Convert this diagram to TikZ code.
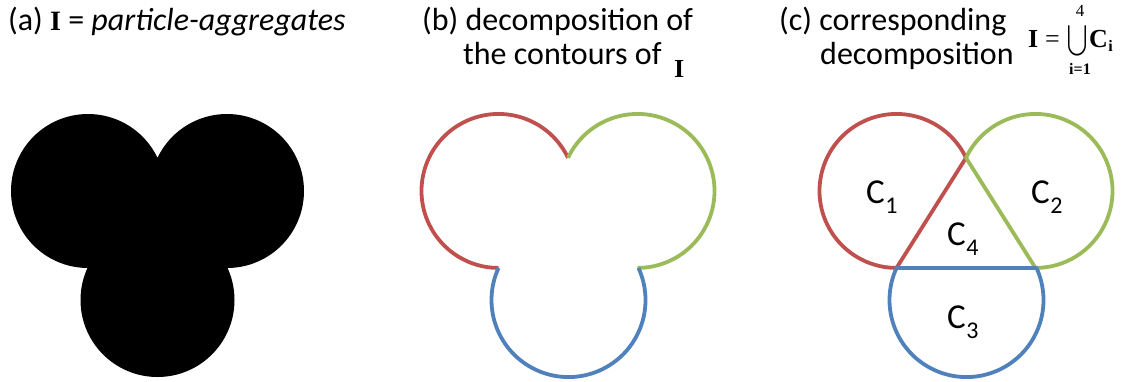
\documentclass[tikz,border=0pt]{standalone}
\usepackage{graphicx}
\usepackage{fontspec}
\setmainfont{Carlito}
\newfontfamily\tms{Liberation Serif}
\definecolor{cred}{HTML}{C0504D}
\definecolor{cgreen}{HTML}{9BBB59}
\definecolor{cblue}{HTML}{4F81BD}
\begin{document}
\begin{tikzpicture}[x=1pt,y=-1pt,
  contour/.style={line width=3.8pt, line join=round},
  ttl/.style={font=\fontsize{32}{36}\selectfont, inner sep=0pt, anchor=base west},
  lbl/.style={inner sep=0pt, anchor=base west, font=\fontsize{35}{35}\selectfont},
  subl/.style={inner sep=0pt, anchor=base west, font=\fontsize{24}{24}\selectfont},
  frm/.style={inner sep=0pt, anchor=base west, font=\fontsize{26}{26}\selectfont\tms\bfseries},
  frms/.style={inner sep=0pt, font=\fontsize{16}{16}\selectfont\tms\bfseries}]
\useasboundingbox (0,0) rectangle (1132,381);
% (a) particle aggregate
\fill[black] (88,191) circle[radius=77] (227,191) circle[radius=77] (157.5,300) circle[radius=77];
% (b) contours
\draw[contour, cred] (568,157.8) arc[start angle=-25.5, end angle=-270, radius=77];
\draw[contour, cgreen] (568,157.8) arc[start angle=-154.5, end angle=90, radius=77];
\draw[contour, cblue] (498.5,268) arc[start angle=204.6, end angle=-24.6, radius=77];
% (c) decomposition
\draw[contour, cred] (966,157.8) arc[start angle=-25.5, end angle=-270, radius=77] -- cycle;
\draw[contour, cgreen] (966,157.8) arc[start angle=-154.5, end angle=90, radius=77] -- cycle;
\draw[contour, cblue] (896.5,268) arc[start angle=204.6, end angle=-24.6, radius=77] -- cycle;
% labels
\node[lbl] (c1) at (866,203) {C};
\node[subl] (c1s) at (c1.base east) [yshift=-10pt] {1};
\node[lbl] (c2) at (1031,203) {C};
\node[subl] (c2s) at (c2.base east) [yshift=-10pt] {2};
\node[lbl] (c4) at (947,245) {C};
\node[subl] (c4s) at (c4.base east) [yshift=-10pt] {4};
\node[lbl] (c3) at (947,328) {C};
\node[subl] (c3s) at (c3.base east) [yshift=-10pt] {3};
% titles
\node[ttl] (ta) at (8,30) {(a) {\fontsize{28}{28}\selectfont\tms\bfseries I} = \textit{particle-aggregates}};
\node[ttl] (tb1) at (422,30) {(b) decomposition of};
\node[ttl] (tb2) at (463,64) {the contours of};
\node[frm] (tbI) at (674,77) {I};
\node[ttl] (tc1) at (779,30) {(c) corresponding};
\node[ttl] (tc2) at (820,64) {decomposition};
% formula I = union C_i
\node[frm] (fI) at (1028,47) {I};
\node[inner sep=0pt, anchor=base west, font=\fontsize{26}{26}\selectfont\tms] (feq) at (1045,47) {=};
\node[inner sep=0pt] (fU) at (1077,40.5) {\resizebox*{20pt}{35pt}{$\displaystyle\bigcup$}};
\node[inner sep=0pt, font=\fontsize{17}{17}\selectfont\tms] (f4) at (1080,11) {4};
\node[frms] (fi1) at (1080,69) {i=1};
\node[frm] (fC) at (1089,47) {C};
\node[frms, anchor=base west] (fCi) at (fC.base east) [yshift=-4pt] {i};
\end{tikzpicture}
\end{document}
